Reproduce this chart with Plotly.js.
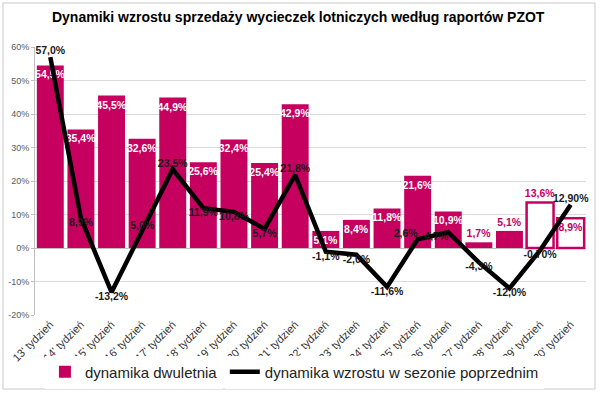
<!DOCTYPE html>
<html>
<head>
<meta charset="utf-8">
<script src="https://cdn.plot.ly/plotly-3.0.1.min.js"></script>
<style>html,body{margin:0;padding:0;background:#fff}#chart{width:600px;height:394px}</style>
</head>
<body>
<div id="chart"></div>
<script>
const categories = ["13' tydzień","14' tydzień","15' tydzień","16' tydzień","17' tydzień","18' tydzień","19' tydzień","20' tydzień","21' tydzień","22' tydzień","23' tydzień","24' tydzień","25' tydzień","26' tydzień","27' tydzień","28' tydzień","29' tydzień","30' tydzień"];
const dwuletnia = [54.5,35.4,45.5,32.6,44.9,25.6,32.4,25.4,42.9,5.1,8.4,11.8,21.6,10.9,1.7,5.1,13.6,8.9];
const poprzedni = [57.0,8.9,-13.2,5.0,23.5,11.9,10.8,5.7,21.8,-1.1,-2.0,-11.6,2.6,4.7,-4.3,-12.0,-0.70,12.90];
const poprzedniDecimals = [1,1,1,1,1,1,1,1,1,1,1,1,1,1,1,1,2,2];
const hollow = [false,false,false,false,false,false,false,false,false,false,false,false,false,false,false,false,true,true];
const outsideLabel = [false,false,false,false,false,false,false,false,false,false,false,false,false,false,true,true,true,false];
const linePos = ['top center','bottom center','bottom center','top center','top center','bottom center','bottom center','bottom center','top center','bottom center','bottom center','bottom center','top left','bottom left','bottom center','bottom center','bottom center','top center'];
const yTicks = [-20,-10,0,10,20,30,40,50,60];

const PINK = '#C6005E';
const FONT = 'Liberation Sans, Arial';
const fmt = (v,d) => v.toFixed(d).replace('.',',') + '%';

const barTrace = {
  type:'bar', x:categories, y:dwuletnia, name:'dynamika dwuletnia', legend:'legend',
  marker:{color:hollow.map(h=>h?'#ffffff':PINK), line:{color:PINK, width:hollow.map(h=>h?2.5:0)}},
  text:dwuletnia.map(v=>fmt(v,1)),
  textposition:outsideLabel.map(o=>o?'outside':'inside'),
  insidetextanchor:'end', textangle:0, constraintext:'none',
  textfont:{family:FONT, size:10.5, weight:'bold',
    color:dwuletnia.map((v,i)=>(outsideLabel[i]||hollow[i])?PINK:'#ffffff')},
  cliponaxis:false, hoverinfo:'skip'
};
const lineTrace = {
  type:'scatter', mode:'lines+text', x:categories, y:poprzedni, name:'dynamika wzrostu w sezonie poprzednim', legend:'legend2',
  line:{color:'#000000', width:4.5},
  text:poprzedni.map((v,i)=>fmt(v,poprzedniDecimals[i])),
  textposition:linePos,
  textfont:{family:FONT, size:10.5, weight:'bold', color:'#1a1a1a'},
  cliponaxis:false, hoverinfo:'skip'
};

const legendFont = {family:FONT, size:15, color:'#222'};
const layout = {
  width:600, height:394,
  margin:{l:35, r:14, t:47, b:79, autoexpand:false},
  paper_bgcolor:'#ffffff', plot_bgcolor:'#ffffff',
  title:{text:'Dynamiki wzrostu sprzedaży wycieczek lotniczych według raportów PZOT',
    font:{family:FONT, size:14, weight:'bold', color:'#000'},
    x:0.497, xanchor:'center', y:0.957, yanchor:'middle'},
  bargap:0.12,
  showlegend:true,
  legend:{orientation:'h', x:0.018, xanchor:'left', y:-0.213, yanchor:'middle', font:legendFont, itemwidth:30},
  legend2:{orientation:'h', x:0.3445, xanchor:'left', y:-0.213, yanchor:'middle', font:legendFont, itemwidth:30},
  xaxis:{type:'category', range:[-0.5, categories.length-0.5], tickangle:-45, tickfont:{family:FONT, size:11, color:'#333'},
    showline:false, showgrid:false, ticks:'', fixedrange:true, automargin:false},
  yaxis:{range:[-20,60], tickvals:yTicks, ticktext:yTicks.map(v=>v+'%'),
    tickfont:{family:FONT, size:9, color:'#595959'},
    showgrid:true, gridcolor:'#DADADA', gridwidth:1, zeroline:true, zerolinecolor:'#BFBFBF', zerolinewidth:1,
    showline:true, linecolor:'#BFBFBF', ticks:'outside', ticklen:3, tickcolor:'#BFBFBF', fixedrange:true, automargin:false},
  shapes:[{type:'rect', xref:'paper', yref:'paper', x0:(3-35)/551, x1:(595-35)/551, y0:-(389-315)/268, y1:1+(47-3)/268,
    line:{color:'#C8C8C8', width:1}, fillcolor:'rgba(0,0,0,0)', layer:'below'}]
};

Plotly.newPlot('chart',[barTrace,lineTrace],layout,{displayModeBar:false, staticPlot:true});
</script>
</body>
</html>
